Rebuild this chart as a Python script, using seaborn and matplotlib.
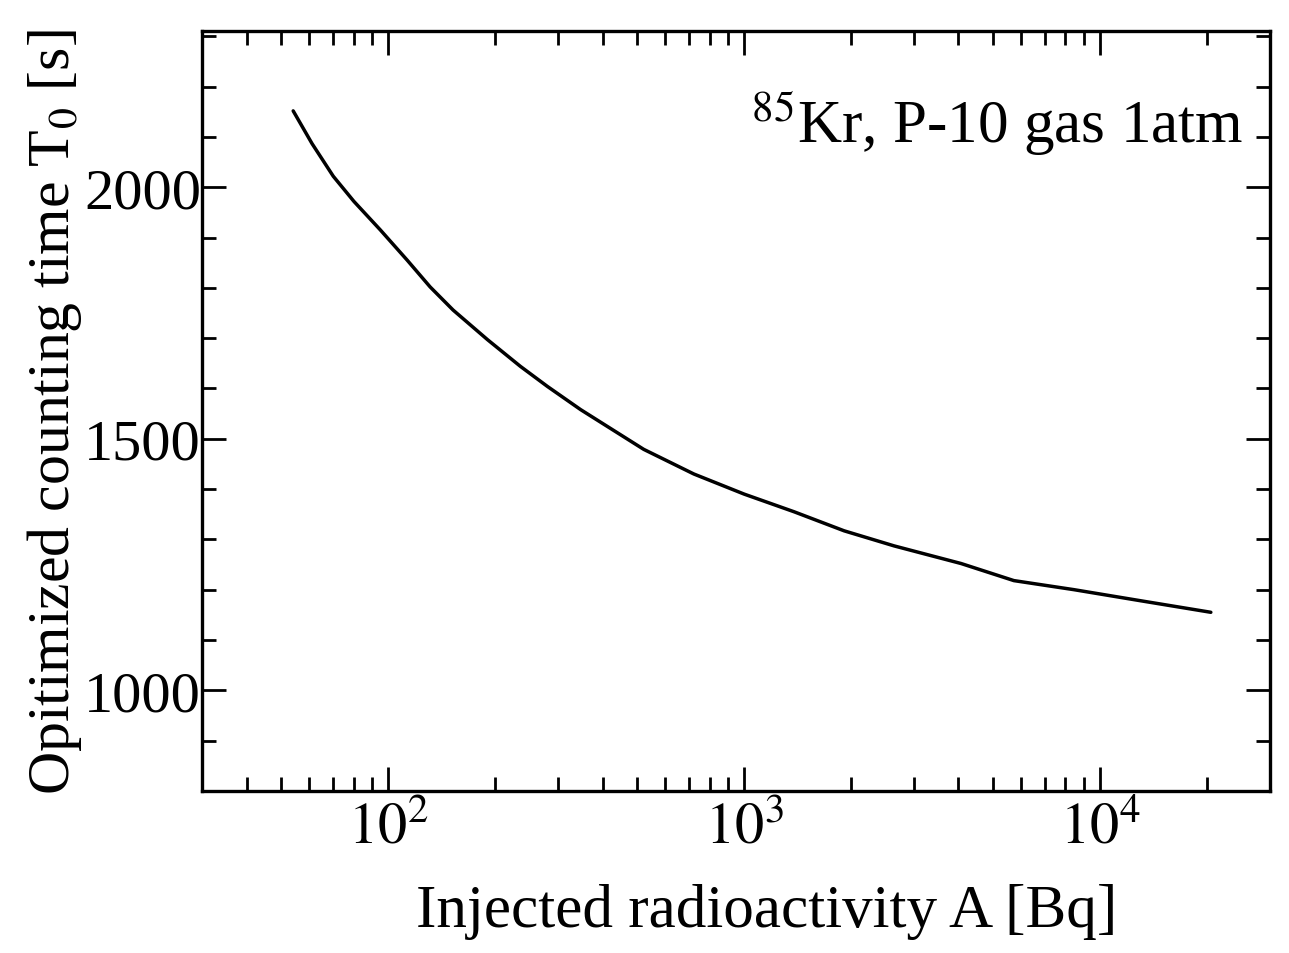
import numpy as np
import pandas as pd
import matplotlib
matplotlib.use("Agg")
import matplotlib.pyplot as plt
import seaborn as sns
from matplotlib.ticker import LogLocator, MultipleLocator, NullFormatter, FixedLocator

# Data
activity_bq = [54, 61, 70, 80, 95, 113, 131, 152, 190, 235, 280, 347,
               522, 722, 1000, 1380, 1910, 2640, 4070, 5730, 8450, 13000, 20500]
counting_time_s = [2152, 2087, 2022, 1972, 1915, 1855, 1802, 1756, 1697, 1644, 1604, 1558,
                   1479, 1430, 1390, 1355, 1317, 1287, 1252, 1218, 1200, 1178, 1155]

x_ticks = [100, 1000, 10000]
x_tick_labels = ["$10^2$", "$10^3$", "$10^4$"]
y_ticks = [1000, 1500, 2000]
y_tick_labels = ["1000", "1500", "2000"]

sns.set_theme(style="ticks")
plt.rcParams['font.family'] = ['Liberation Serif', 'DejaVu Serif']
plt.rcParams['mathtext.fontset'] = 'stix'
plt.rcParams['text.color'] = 'black'
plt.rcParams['axes.labelcolor'] = 'black'

df = pd.DataFrame({"A": activity_bq, "T0": counting_time_s})

fig = plt.figure(figsize=(12.89, 9.54), dpi=100)
ax = fig.add_axes([0.157, 0.170, 0.828, 0.796])

sns.lineplot(data=df, x="A", y="T0", ax=ax, color="black", linewidth=2.5)

ax.set_xscale("log")
ax.set_xlim(30, 30000)
ax.set_ylim(800, 2310)

ax.xaxis.set_major_locator(FixedLocator(x_ticks))
ax.set_xticklabels(x_tick_labels)
ax.xaxis.set_minor_locator(LogLocator(base=10, subs=np.arange(2, 10)))
ax.xaxis.set_minor_formatter(NullFormatter())
ax.yaxis.set_major_locator(FixedLocator(y_ticks))
ax.set_yticklabels(y_tick_labels)
ax.yaxis.set_minor_locator(MultipleLocator(100))

ax.tick_params(which="both", direction="in", top=True, right=True, width=2,
               colors="black", labelcolor="black")
ax.tick_params(which="major", length=17, labelsize=42)
ax.tick_params(axis="y", which="major", pad=1)
ax.tick_params(axis="x", which="major", pad=8)
ax.tick_params(which="minor", length=10)
for s in ax.spines.values():
    s.set_linewidth(2.4)
    s.set_color("black")

ax.set_xlabel("Injected radioactivity A [Bq]", fontsize=44, color="black", va="center")
ax.xaxis.set_label_coords(0.529, -0.158)
ax.set_ylabel("Opitimized counting time T$_0$ [s]", fontsize=43, labelpad=0, color="black")

ax.text(0.975, 0.88, "$^{85}$Kr, P-10 gas 1atm", transform=ax.transAxes,
        ha="right", va="center", fontsize=44, color="black")

fig.savefig("out.png", dpi=100, facecolor="white")
